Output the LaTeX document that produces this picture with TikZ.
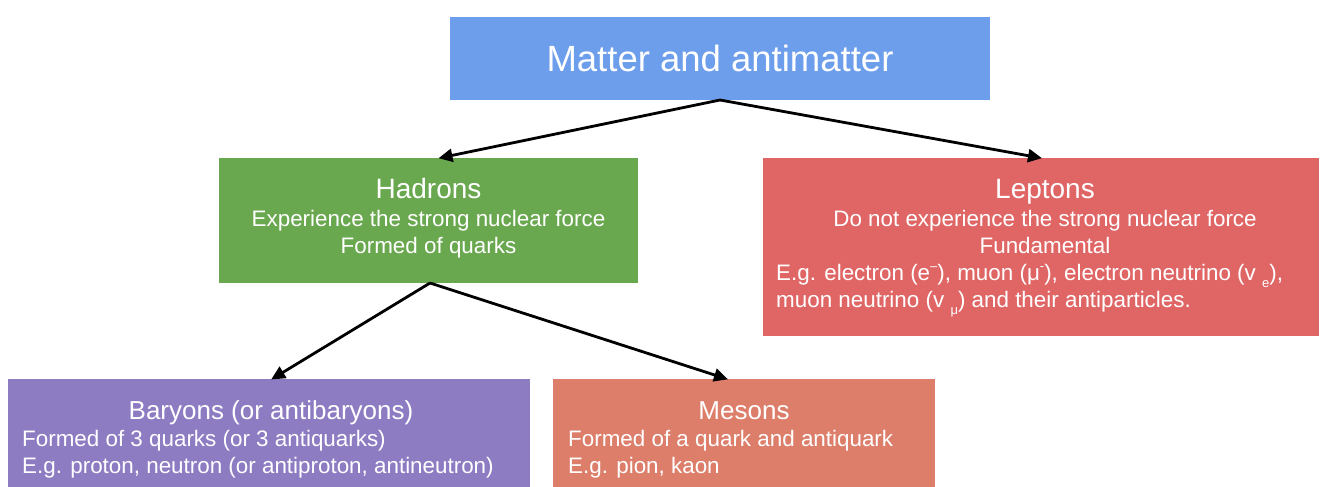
\documentclass[tikz,border=0pt]{standalone}
\usepackage{fontspec}
\setmainfont{Liberation Sans}
\usetikzlibrary{arrows.meta}
\definecolor{topblue}{HTML}{6D9EEB}
\definecolor{hadgreen}{HTML}{6AA84F}
\definecolor{leptred}{HTML}{E06666}
\definecolor{barypurple}{HTML}{8E7CC3}
\definecolor{mesonorange}{HTML}{DD7E6B}
\newcommand\upmark[1]{\raisebox{0.42em}{\fontsize{13}{13}\selectfont #1}}
\newcommand\downmark[1]{\raisebox{-0.32em}{\fontsize{13}{13}\selectfont #1}}
\tikzset{
  panel/.style={rectangle, draw=none, inner sep=0pt, outer sep=0pt},
  bodytext/.style={text=white, inner sep=0pt, font=\fontsize{22.4}{26}\selectfont},
  headtext/.style={text=white, inner sep=0pt, anchor=base, font=\fontsize{28}{30}\selectfont},
  link/.style={line width=2.8pt, -{Triangle[length=14pt,width=13pt]}, shorten >=-1pt},
}
\begin{document}
\begin{tikzpicture}[x=1pt,y=-1pt]
\useasboundingbox (0,0) rectangle (1320,487);

% boxes
\node[panel, fill=topblue, minimum width=540pt, minimum height=83pt,
      text=white, font=\fontsize{36.5}{38}\selectfont] (top) at (720,58.5) {Matter and antimatter};
\node[panel, fill=hadgreen, minimum width=419pt, minimum height=125pt] (hadrons) at (428.5,220.5) {};
\node[panel, fill=leptred, minimum width=556pt, minimum height=178pt] (leptons) at (1041,247) {};
\node[panel, fill=barypurple, minimum width=522pt, minimum height=111pt] (baryons) at (269,434.5) {};
\node[panel, fill=mesonorange, minimum width=382pt, minimum height=111pt] (mesons) at (744,434.5) {};

% hadrons text
\node[headtext] (hadt) at (428.5,198) {Hadrons};
\node[bodytext, anchor=base] (had1) at (428.5,226) {Experience the strong nuclear force};
\node[bodytext, anchor=base] (had2) at (428.5,253) {Formed of quarks};

% leptons text
\node[headtext] (lept) at (1045,198) {Leptons};
\node[bodytext, anchor=base] (lep1) at (1045,226) {Do not experience the strong nuclear force};
\node[bodytext, anchor=base] (lep2) at (1045,253) {Fundamental};
\node[bodytext, anchor=base west] (lep3) at (776,280)
  {E.g. electron (e\upmark{–}), muon (μ\upmark{-}), electron neutrino (v \downmark{e}),};
\node[bodytext, anchor=base west] (lep4) at (776,307)
  {muon neutrino (v \downmark{μ}) and their antiparticles.};

% baryons text
\node[headtext, font=\fontsize{26}{28}\selectfont] (baryt) at (271,419) {Baryons (or antibaryons)};
\node[bodytext, anchor=base west] (bar1) at (22,446) {Formed of 3 quarks (or 3 antiquarks)};
\node[bodytext, anchor=base west] (bar2) at (22,473) {E.g. proton, neutron (or antiproton, antineutron)};

% mesons text
\node[headtext, font=\fontsize{26}{28}\selectfont] (mest) at (744,419) {Mesons};
\node[bodytext, anchor=base west] (mes1) at (568,446) {Formed of a quark and antiquark};
\node[bodytext, anchor=base west] (mes2) at (568,473) {E.g. pion, kaon};

% connectors
\draw[link] (top.south) -- ([xshift=11pt]hadrons.north);
\draw[link] (top.south) -- (leptons.north);
\draw[link] ([xshift=1.5pt]hadrons.south) -- ([xshift=3pt]baryons.north);
\draw[link] ([xshift=1.5pt]hadrons.south) -- ([xshift=-17pt]mesons.north);
\end{tikzpicture}
\end{document}
